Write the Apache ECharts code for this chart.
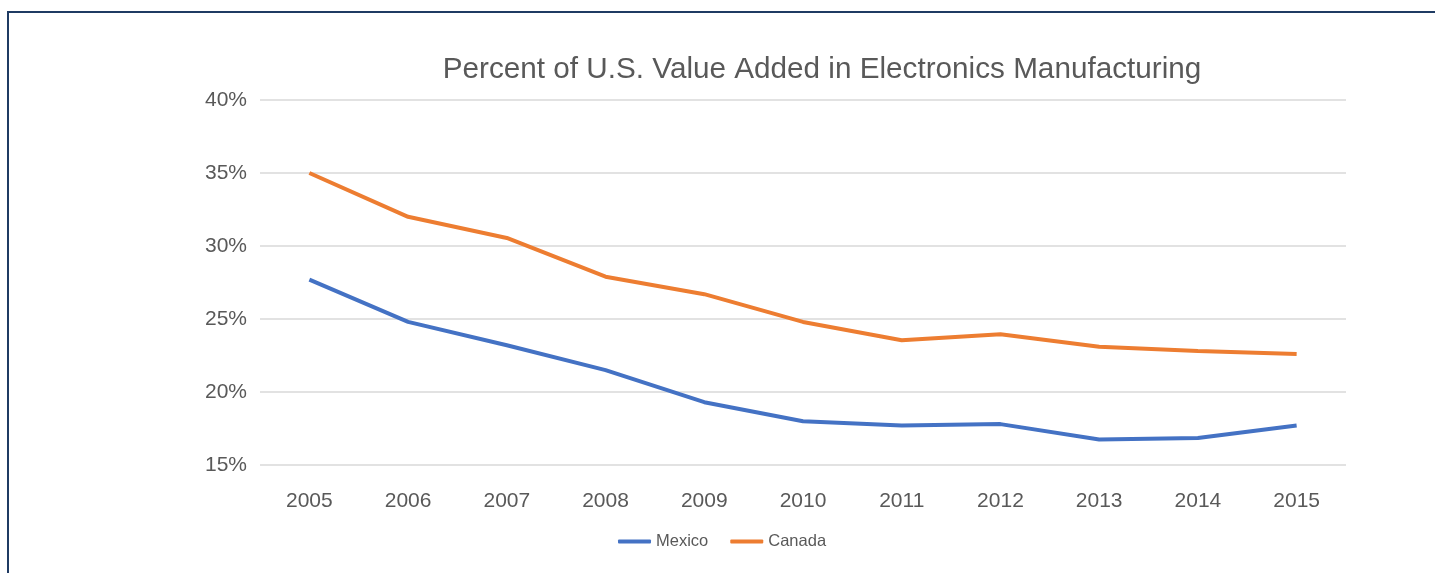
<!DOCTYPE html>
<html>
<head>
<meta charset="utf-8">
<script src="https://cdn.jsdelivr.net/npm/echarts@6/dist/echarts.min.js"></script>
<style>
html,body{margin:0;padding:0;background:#fff;}
#frame{position:absolute;left:7px;top:11px;width:1500px;height:700px;border:2.5px solid #1f3b63;box-sizing:border-box;}
#chart{position:absolute;left:0;top:0;width:1435px;height:573px;}
</style>
</head>
<body>
<div id="frame"></div>
<div id="chart"></div>
<script>
const years = ['2005','2006','2007','2008','2009','2010','2011','2012','2013','2014','2015'];
const mexico = [27.7, 24.8, 23.2, 21.5, 19.3, 18.0, 17.7, 17.8, 16.75, 16.85, 17.7];
const canada = [35.0, 32.0, 30.55, 27.9, 26.7, 24.8, 23.55, 23.95, 23.1, 22.8, 22.6];
const yTicks = [15, 20, 25, 30, 35, 40];

const chart = echarts.init(document.getElementById('chart'));
const font = '"Liberation Sans", Arial, Helvetica, sans-serif';
chart.setOption({
  animation: false,
  textStyle: {fontFamily: font},
  title: {
    text: 'Percent of U.S. Value Added in Electronics Manufacturing',
    left: 817, top: 50, textAlign: 'center',
    textStyle: {fontFamily: font, fontSize: 29.7, fontWeight: 'normal', color: '#595959'}
  },
  legend: {
    data: ['Mexico', 'Canada'],
    left: 613, top: 528,
    itemWidth: 33, itemHeight: 4, itemGap: 22,
    icon: 'roundRect',
    textStyle: {fontFamily: font, fontSize: 16.5, color: '#595959'}
  },
  grid: {left: 260, right: 89, top: 100, bottom: 108, containLabel: false},
  xAxis: {
    type: 'category', data: years, boundaryGap: true,
    axisLine: {show: false}, axisTick: {show: false},
    axisLabel: {fontFamily: font, fontSize: 21, color: '#595959', margin: 26}
  },
  yAxis: {
    type: 'value', min: yTicks[0], max: yTicks[yTicks.length-1], interval: 5,
    axisLine: {show: false}, axisTick: {show: false},
    axisLabel: {fontFamily: font, fontSize: 21, color: '#595959', margin: 13, formatter: v => v + '%'},
    splitLine: {lineStyle: {color: '#d9d9d9', width: 1.5}}
  },
  series: [
    {name: 'Mexico', type: 'line', data: mexico, symbol: 'none', lineStyle: {color: '#4472C4', width: 4}, itemStyle: {color: '#4472C4'}},
    {name: 'Canada', type: 'line', data: canada, symbol: 'none', lineStyle: {color: '#ED7D31', width: 4}, itemStyle: {color: '#ED7D31'}}
  ]
});
</script>
</body>
</html>
